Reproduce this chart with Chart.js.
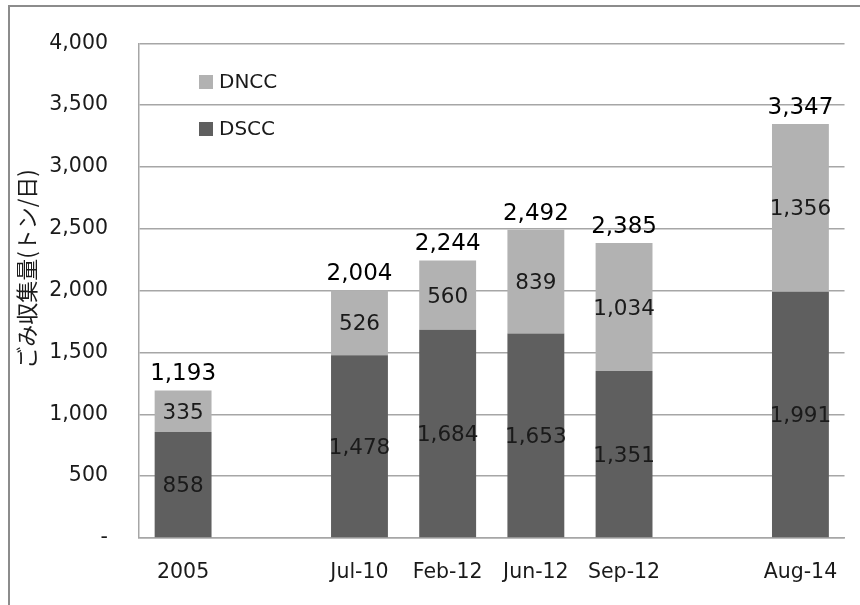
<!DOCTYPE html>
<html lang="ja">
<head>
<meta charset="utf-8">
<title>ごみ収集量</title>
<script src="https://cdn.jsdelivr.net/npm/chart.js@4/dist/chart.umd.min.js"></script>
<style>
    body { margin: 0; background: #fff; }
    #wrap { width: 860px; height: 605px; }
</style>
</head>
<body>
<div id="wrap"><canvas id="wasteChart" width="860" height="605"></canvas></div>
<script>
/* =========================
    Data
========================= */
const periods = ['2005', '', 'Jul-10', 'Feb-12', 'Jun-12', 'Sep-12', '', 'Aug-14'];
const dsccValues = [858, null, 1478, 1684, 1653, 1351, null, 1991];
const dnccValues = [335, null, 526, 560, 839, 1034, null, 1356];
const yTickLabels = ['-', '500', '1,000', '1,500', '2,000', '2,500', '3,000', '3,500', '4,000'];
const yTitle = 'ごみ収集量(トン/日)';

const DARK = '#5f5f5f';
const LIGHT = '#b2b2b2';
const TEXT = '#1a1a1a';
const FONT = '"DejaVu Sans", sans-serif';

function fmt(n) {
    return n.toLocaleString('en-US');
}

/* =========================
    Plugin: frame, title, legend, value labels
========================= */
const decorPlugin = {
    id: 'decor',
    beforeDraw(chart) {
        const ctx = chart.ctx;
        ctx.save();
        ctx.fillStyle = '#fff';
        ctx.fillRect(0, 0, chart.width, chart.height);
        // outer frame (left and top edges fall inside the canvas)
        ctx.strokeStyle = '#8c8c8c';
        ctx.lineWidth = 2;
        ctx.strokeRect(9, 6, 900, 700);
        ctx.restore();
    },
    afterDraw(chart) {
        const ctx = chart.ctx;
        ctx.save();

        // y axis title
        ctx.translate(27, 269);
        ctx.rotate(-Math.PI / 2);
        ctx.fillStyle = TEXT;
        ctx.font = '22px "Noto Sans CJK JP", sans-serif';
        ctx.textAlign = 'center';
        ctx.textBaseline = 'middle';
        ctx.fillText(yTitle, 0, 0);
        ctx.setTransform(1, 0, 0, 1, 0, 0);

        // legend inside the plot (DNCC above DSCC)
        const order = [1, 0];
        ctx.font = '20px ' + FONT;
        ctx.textAlign = 'left';
        order.forEach((di, i) => {
            const ds = chart.data.datasets[di];
            const y = 82 + i * 47;
            ctx.fillStyle = ds.backgroundColor;
            ctx.fillRect(199, y - 7, 14, 14);
            ctx.fillStyle = TEXT;
            ctx.fillText(ds.label, 219, y + 1);
        });

        // segment values
        ctx.textAlign = 'center';
        ctx.textBaseline = 'middle';
        chart.data.datasets.forEach((ds, di) => {
            const meta = chart.getDatasetMeta(di);
            meta.data.forEach((el, i) => {
                const v = ds.data[i];
                if (v == null) return;
                ctx.fillStyle = TEXT;
                ctx.font = '21.5px ' + FONT;
                ctx.fillText(fmt(v), el.x, (el.y + el.base) / 2 + 2);
            });
        });

        // totals above each stack
        const topMeta = chart.getDatasetMeta(1);
        ctx.textBaseline = 'alphabetic';
        ctx.font = '23px ' + FONT;
        topMeta.data.forEach((el, i) => {
            if (dsccValues[i] == null) return;
            const total = dsccValues[i] + dnccValues[i];
            ctx.fillStyle = '#000';
            ctx.fillText(fmt(total), el.x, el.y - 10);
        });

        ctx.restore();
    }
};

/* =========================
    Chart
========================= */
const ctx = document.getElementById('wasteChart').getContext('2d');
new Chart(ctx, {
    type: 'bar',
    data: {
        labels: periods,
        datasets: [
            {
                label: 'DSCC',
                data: dsccValues,
                backgroundColor: DARK,
                categoryPercentage: 1,
                barPercentage: 0.645
            },
            {
                label: 'DNCC',
                data: dnccValues,
                backgroundColor: LIGHT,
                categoryPercentage: 1,
                barPercentage: 0.645
            }
        ]
    },
    options: {
        responsive: false,
        animation: false,
        layout: { padding: { left: 0, top: 33, right: 13, bottom: 0 } },
        plugins: {
            legend: { display: false },
            tooltip: { enabled: false }
        },
        scales: {
            x: {
                stacked: true,
                grid: { display: false, drawTicks: false },
                border: { color: '#a6a6a6', width: 1.5 },
                ticks: {
                    color: TEXT,
                    padding: 22,
                    font: { family: FONT, size: 20.5 },
                    maxRotation: 0,
                    autoSkip: false
                },
                afterFit(scale) { scale.height = 67; }
            },
            y: {
                stacked: true,
                min: 0,
                max: 4000,
                grid: { color: '#a6a6a6', lineWidth: 1.5, drawTicks: false },
                border: { color: '#a6a6a6', width: 1.5 },
                ticks: {
                    stepSize: 500,
                    color: TEXT,
                    padding: 31,
                    font: { family: FONT, size: 20.5 },
                    callback: (value, index) => yTickLabels[index]
                },
                afterFit(scale) { scale.width = 139; }
            }
        }
    },
    plugins: [decorPlugin]
});
</script>
</body>
</html>
